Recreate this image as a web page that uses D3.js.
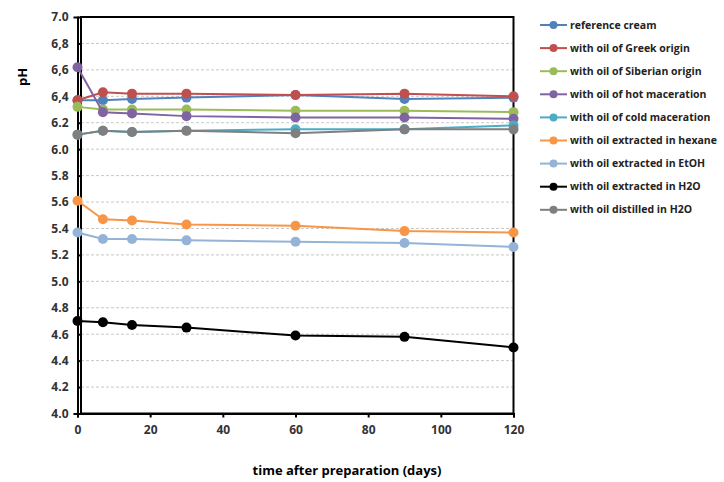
<!DOCTYPE html>
<html>
<head>
<meta charset="utf-8">
<script src="https://cdn.jsdelivr.net/npm/d3@7"></script>
<style>
  body { margin: 0; background: #fff; }
  text { font-family: "Open Sans", "DejaVu Sans", sans-serif; }
</style>
</head>
<body>
<div id="chart"></div>
<script>
// data
var days = [0, 7, 15, 30, 60, 90, 120];
var seriesNames = [
  "reference cream",
  "with oil of Greek origin",
  "with oil of Siberian origin",
  "with oil of hot maceration",
  "with oil of cold maceration",
  "with oil extracted in hexane",
  "with oil extracted in EtOH",
  "with oil extracted in H2O",
  "with oil distilled in H2O"
];
var referenceCream = [6.37, 6.37, 6.38, 6.39, 6.41, 6.38, 6.39];
var greekOrigin    = [6.37, 6.43, 6.42, 6.42, 6.41, 6.42, 6.40];
var siberianOrigin = [6.32, 6.30, 6.30, 6.30, 6.29, 6.29, 6.28];
var hotMaceration  = [6.62, 6.28, 6.27, 6.25, 6.24, 6.24, 6.23];
var coldMaceration = [6.11, 6.14, 6.13, 6.14, 6.15, 6.15, 6.18];
var hexane         = [5.61, 5.47, 5.46, 5.43, 5.42, 5.38, 5.37];
var etoh           = [5.37, 5.32, 5.32, 5.31, 5.30, 5.29, 5.26];
var waterExtract   = [4.70, 4.69, 4.67, 4.65, 4.59, 4.58, 4.50];
var distilled      = [6.11, 6.14, 6.13, 6.14, 6.12, 6.15, 6.15];
var yTickLabels = ["4.0", "4.2", "4.4", "4.6", "4.8", "5.0", "5.2", "5.4", "5.6", "5.8", "6.0", "6.2", "6,4", "6,6", "6,8", "7.0"];
var xTicks = [0, 20, 40, 60, 80, 100, 120];

var allValues = [referenceCream, greekOrigin, siberianOrigin, hotMaceration, coldMaceration,
  hexane, etoh, waterExtract, distilled];
var colors = ["#4F81BD", "#C0504D", "#9BBB59", "#8064A2", "#4BACC6",
  "#F79646", "#95B3D7", "#000000", "#7F7F7F"];

var svgWidth = 724;
var svgHeight = 482;

var svg = d3.select("#chart")
  .append("svg")
  .attr("width", svgWidth)
  .attr("height", svgHeight);

var xScale = d3.scaleLinear().domain([0, 120]).range([77.5, 513.5]);
var yScale = d3.scaleLinear().domain([4, 7]).range([413.5, 17]);

// gridlines
var yTickValues = yTickLabels.map(function(d) { return +d.replace(",", "."); });
svg.append("g")
  .selectAll("line")
  .data(yTickValues.filter(function(v) { return v > 4 && v < 7; }))
  .enter()
  .append("line")
  .attr("x1", xScale(0) + 3.5)
  .attr("x2", xScale(120))
  .attr("y1", function(d) { return yScale(d); })
  .attr("y2", function(d) { return yScale(d); })
  .attr("stroke", "#c8c8c8")
  .attr("stroke-dasharray", "3,2")
  .attr("stroke-width", 1);

// plot box
svg.append("rect")
  .attr("x", xScale(0) + 3.5)
  .attr("y", yScale(7))
  .attr("width", xScale(120) - xScale(0) - 3.5)
  .attr("height", yScale(4) - yScale(7))
  .attr("fill", "none")
  .attr("stroke", "#000")
  .attr("stroke-width", 2);

// axes
var leftAxis = d3.axisLeft(yScale)
  .tickValues(yTickValues)
  .tickFormat(function(d, i) { return yTickLabels[i]; })
  .tickSize(4)
  .tickPadding(5);
var bottomAxis = d3.axisBottom(xScale)
  .tickValues(xTicks)
  .tickSize(4)
  .tickPadding(8);

var yAxisG = svg.append("g")
  .attr("transform", "translate(" + xScale(0) + ",0)")
  .call(leftAxis);
var xAxisG = svg.append("g")
  .attr("transform", "translate(0," + yScale(4) + ")")
  .call(bottomAxis);

[yAxisG, xAxisG].forEach(function(g) {
  g.select(".domain").attr("stroke", "#000").attr("stroke-width", 2);
  g.selectAll(".tick line").attr("stroke", "#000").attr("stroke-width", 2);
  g.selectAll(".tick text")
    .attr("fill", "#333")
    .style("font-size", "12px")
    .style("font-weight", "bold")
    .style("font-family", "'Open Sans', sans-serif");
});
yAxisG.selectAll(".tick line").attr("x2", 4);

// series lines and markers
var line = d3.line()
  .x(function(d, i) { return xScale(days[i]); })
  .y(function(d) { return yScale(d); });

allValues.forEach(function(values, s) {
  var g = svg.append("g");
  g.append("path")
    .datum(values)
    .attr("d", line)
    .attr("fill", "none")
    .attr("stroke", colors[s])
    .attr("stroke-width", 2);
  g.selectAll("circle")
    .data(values)
    .enter()
    .append("circle")
    .attr("cx", function(d, i) { return xScale(days[i]); })
    .attr("cy", function(d) { return yScale(d); })
    .attr("r", 5)
    .attr("fill", colors[s]);
});

// legend
var legend = svg.append("g").attr("transform", "translate(540,25)");
var items = legend.selectAll("g")
  .data(seriesNames)
  .enter()
  .append("g")
  .attr("transform", function(d, i) { return "translate(0," + (i * 23.1) + ")"; });
items.append("line")
  .attr("x1", 0).attr("x2", 27)
  .attr("stroke", function(d, i) { return colors[i]; })
  .attr("stroke-width", 2);
items.append("circle")
  .attr("cx", 13.5)
  .attr("r", 4)
  .attr("fill", function(d, i) { return colors[i]; });
items.append("text")
  .attr("x", 30)
  .attr("dy", "0.35em")
  .attr("fill", "#222")
  .style("font-size", "10.5px")
  .style("font-weight", "bold")
  .text(function(d) { return d; });

// axis titles
svg.append("text")
  .attr("transform", "translate(27,77) rotate(-90)")
  .attr("text-anchor", "middle")
  .style("font-size", "13px")
  .style("font-weight", "bold")
  .text("pH");

svg.append("text")
  .attr("x", 347)
  .attr("y", 475)
  .attr("text-anchor", "middle")
  .style("font-size", "13px")
  .style("font-weight", "bold")
  .text("time after preparation (days)");
</script>
</body>
</html>
